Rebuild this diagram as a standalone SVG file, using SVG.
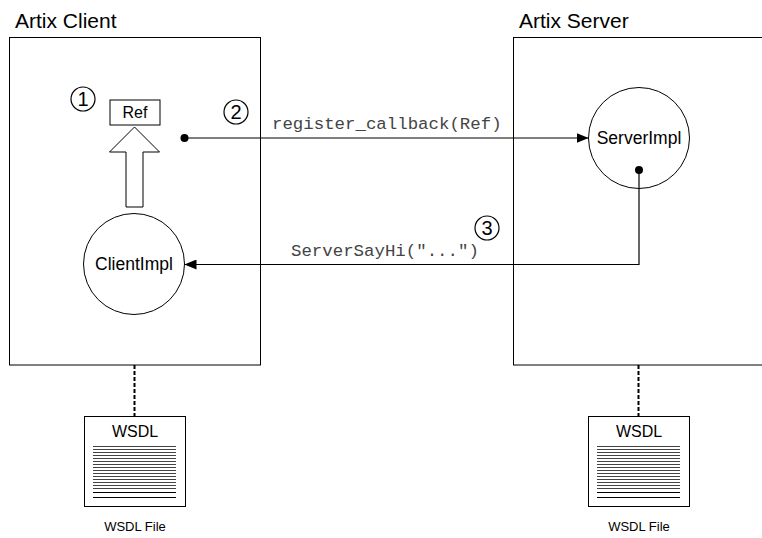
<svg xmlns="http://www.w3.org/2000/svg" width="762" height="538" viewBox="0 0 762 538">
<defs>
<style>
.box{fill:#fff;stroke:#000;stroke-width:1}
.title{font-family:"Liberation Sans",Arial,sans-serif;font-size:21px;fill:#000}
.lbl{font-family:"Liberation Sans",Arial,sans-serif;fill:#000;text-anchor:middle}
.mono{font-family:"Liberation Mono","Courier New",monospace;font-size:17.4px;fill:#444}
.num{fill:#fff;stroke:#000;stroke-width:1.2}
.numt{font-family:"Liberation Sans",Arial,sans-serif;font-size:20px;fill:#000;text-anchor:middle}
.conn{fill:none;stroke:#000;stroke-width:1.2}
.dash{fill:none;stroke:#000;stroke-width:2;stroke-dasharray:4 2}
.dl{stroke:#444;stroke-width:1}
</style>
<marker id="ah" markerWidth="12" markerHeight="10" refX="12" refY="5" orient="auto" markerUnits="userSpaceOnUse">
<path d="M0,0 L12,5 L0,10 Z" fill="#000"/>
</marker>
<g id="doclines">
<line class="dl" x1="9" y1="0.5" x2="92" y2="0.5"/>
<line class="dl" x1="9" y1="3.5" x2="92" y2="3.5"/>
<line class="dl" x1="9" y1="6.5" x2="92" y2="6.5"/>
<line class="dl" x1="9" y1="9.5" x2="92" y2="9.5"/>
<line class="dl" x1="9" y1="12.5" x2="92" y2="12.5"/>
<line class="dl" x1="9" y1="15.5" x2="92" y2="15.5"/>
<line class="dl" x1="9" y1="18.5" x2="92" y2="18.5"/>
<line class="dl" x1="9" y1="21.5" x2="92" y2="21.5"/>
<line class="dl" x1="9" y1="24.5" x2="92" y2="24.5"/>
<line class="dl" x1="9" y1="27.5" x2="92" y2="27.5"/>
<line class="dl" x1="9" y1="30.5" x2="92" y2="30.5"/>
<line class="dl" x1="9" y1="33.5" x2="92" y2="33.5"/>
<line class="dl" x1="9" y1="36.5" x2="92" y2="36.5"/>
<line class="dl" x1="9" y1="39.5" x2="92" y2="39.5"/>
<line class="dl" x1="9" y1="42.5" x2="92" y2="42.5"/>
<line x1="9" y1="46.5" x2="92" y2="46.5" stroke="#000" stroke-width="1"/>
<line x1="9" y1="51.5" x2="92" y2="51.5" stroke="#000" stroke-width="1"/>
</g>
</defs>
<rect width="762" height="538" fill="#fff"/>

<g id="client">
<text class="title" x="15" y="28">Artix Client</text>
<rect class="box" x="9.5" y="37.5" width="251" height="327.5"/>
</g>

<g id="server">
<text class="title" x="519" y="28">Artix Server</text>
<rect class="box" x="513.5" y="37.5" width="260" height="327.5"/>
</g>

<g id="ref">
<rect class="box" x="110" y="100" width="50" height="25"/>
<text class="lbl" x="135" y="118" font-size="16">Ref</text>
</g>

<g id="hollow-arrow">
<path d="M134.5,127 L159.5,152 L143,152 L143,207 L126,207 L126,152 L109.5,152 Z" fill="#fff" stroke="#000" stroke-width="1"/>
</g>

<g id="clientimpl">
<circle class="box" cx="134" cy="264" r="50.5"/>
<text class="lbl" x="134" y="270" font-size="17.5">ClientImpl</text>
</g>

<g id="serverimpl">
<circle class="box" cx="639" cy="138" r="50.5"/>
<text class="lbl" x="639" y="144" font-size="17.5">ServerImpl</text>
</g>

<g id="step1">
<circle class="num" cx="83" cy="99" r="12"/>
<text class="numt" x="83" y="106">1</text>
</g>
<g id="step2">
<circle class="num" cx="236" cy="112" r="12"/>
<text class="numt" x="236" y="119">2</text>
</g>
<g id="step3">
<circle class="num" cx="487" cy="228" r="12"/>
<text class="numt" x="487" y="235">3</text>
</g>

<g id="connectors">
<circle cx="184.5" cy="138" r="4" fill="#000"/>
<line class="conn" x1="184.5" y1="138" x2="588.5" y2="138" marker-end="url(#ah)"/>
<text class="mono" x="272" y="129">register_callback(Ref)</text>
<circle cx="639" cy="170" r="4" fill="#000"/>
<polyline class="conn" points="639,170 639,264.5 184.5,264.5" marker-end="url(#ah)"/>
<text class="mono" x="291" y="256">ServerSayHi("...")</text>
<line class="dash" x1="134.5" y1="365" x2="134.5" y2="416"/>
<line class="dash" x1="638.5" y1="365" x2="638.5" y2="416"/>
</g>

<g id="wsdl-client">
<rect class="box" x="84.5" y="416.5" width="101" height="90"/>
<text class="lbl" x="135" y="437" font-size="16">WSDL</text>
<use href="#doclines" x="84" y="446"/>
<text class="lbl" x="135" y="531" font-size="13">WSDL File</text>
</g>

<g id="wsdl-server">
<rect class="box" x="588.5" y="416.5" width="101" height="90"/>
<text class="lbl" x="639" y="437" font-size="16">WSDL</text>
<use href="#doclines" x="588" y="446"/>
<text class="lbl" x="639" y="531" font-size="13">WSDL File</text>
</g>
</svg>
